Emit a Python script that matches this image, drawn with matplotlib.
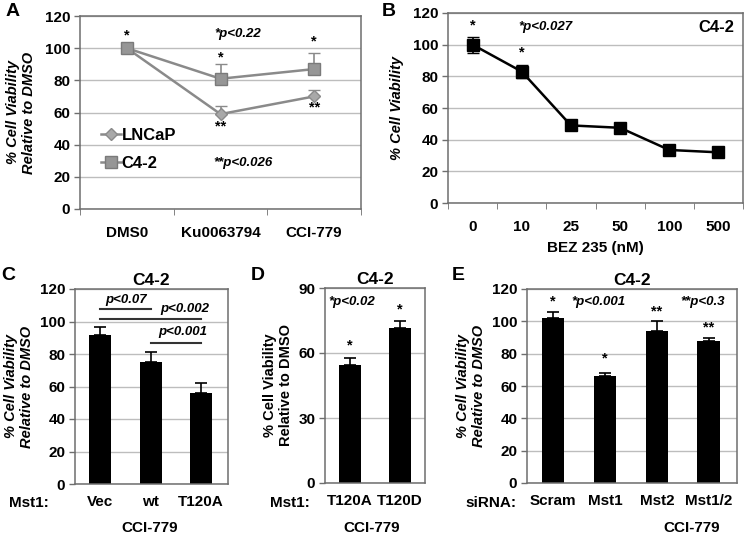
import matplotlib
matplotlib.use("Agg")
import matplotlib.pyplot as plt
from matplotlib.lines import Line2D

plt.rcParams["font.family"] = ["Liberation Sans", "DejaVu Sans"]
plt.rcParams["font.weight"] = "bold"

# panel A
a_cats = ["DMS0", "Ku0063794", "CCI-779"]
a_lncap = [100, 59, 70]
a_lncap_err = [0, 5, 4]
a_c42 = [100, 81, 87]
a_c42_err = [0, 9, 10]

# panel B
b_doses = ["0", "10", "25", "50", "100", "500"]
b_vals = [100, 83, 49, 47.5, 33.5, 32]
b_err = [5, 4, 0, 0, 0, 0]

# panel C
c_cats = ["Vec", "wt", "T120A"]
c_vals = [91.5, 75, 56]
c_err = [5, 6.5, 6]

# panel D
d_cats = ["T120A", "T120D"]
d_vals = [54.5, 71.5]
d_err = [3, 3.5]

# panel E
e_cats = ["Scram", "Mst1", "Mst2", "Mst1/2"]
e_vals = [102, 66, 94, 88]
e_err = [3.5, 2, 6, 2]

W, H = 745, 536
GRID = "#bdbdbd"
SPINE = "#6e6e6e"
TICK_FS = 11
PV = dict(fontsize=9.5, fontstyle="italic", fontweight="bold", ha="center", va="center")
STAR = dict(fontsize=10.5, ha="center", va="center")


def rect(x0, y0, x1, y1):
    return [x0 / W, 1 - y1 / H, (x1 - x0) / W, (y1 - y0) / H]


def style(ax, ymax, step):
    ax.set_ylim(0, ymax)
    ax.set_yticks(range(0, ymax + 1, step))
    ax.yaxis.grid(True, color=GRID, lw=1)
    ax.set_axisbelow(True)
    for s in ax.spines.values():
        s.set_color(SPINE)
        s.set_linewidth(1.1)
    ax.tick_params(axis="y", length=4, width=1, color=SPINE, labelsize=TICK_FS, pad=3)
    for t in ax.get_yticklabels():
        t.set_fontweight("bold")


fig = plt.figure(figsize=(W / 100, H / 100), dpi=100)

# ---- A
ax = fig.add_axes(rect(80, 16, 361, 209))
x = range(len(a_cats))
ax.errorbar(x, a_lncap, yerr=[[0] * 3, a_lncap_err], color="#8a8a8a", lw=1.8,
            marker="D", ms=6.5, mfc="#a8a8a8", mec="#8a8a8a", ecolor="#8a8a8a",
            elinewidth=1.2, capsize=4, label="LNCaP")
ax.errorbar(x, a_c42, yerr=[[0] * 3, a_c42_err], color="#8a8a8a", lw=1.8,
            marker="s", ms=8, mfc="#969696", mec="#7a7a7a", ecolor="#8a8a8a",
            elinewidth=1.2, capsize=4, label="C4-2")
ax.set_xlim(-0.5, 2.5)
style(ax, 120, 20)
ax.set_xticks(list(x))
ax.set_xticklabels(a_cats, fontsize=TICK_FS, fontweight="bold")
ax.set_xticks([-0.5, 0.5, 1.5, 2.5], minor=True)
ax.tick_params(axis="x", which="major", length=0, pad=12)
ax.tick_params(axis="x", which="minor", length=4, color=SPINE)
ax.set_ylabel("% Cell Viability\nRelative to DMSO", fontsize=10.5,
              fontstyle="italic", fontweight="bold", labelpad=6)
ax.text(0, 108, "*", **STAR)
ax.text(1, 94.5, "*", **STAR)
ax.text(1, 51.5, "**", **STAR)
ax.text(2, 104, "*", **STAR)
ax.text(2, 63, "**", **STAR)
ax.text(1.18, 109, "*p<0.22", **PV)
ax.text(1.24, 28.5, "**p<0.026", **PV)
handles = [
    Line2D([], [], color="#8a8a8a", lw=1.8, marker="D", ms=6.5, mfc="#a8a8a8", mec="#8a8a8a"),
    Line2D([], [], color="#8a8a8a", lw=1.8, marker="s", ms=8, mfc="#969696", mec="#7a7a7a"),
]
ax.legend(handles, ["LNCaP", "C4-2"], loc="upper left", bbox_to_anchor=(0.02, 0.5),
          frameon=False, prop=dict(size=12, weight="bold"), handlelength=1.2,
          handletextpad=0.05, labelspacing=0.8)

# ---- B
ax = fig.add_axes(rect(448, 13, 743, 203))
x = range(len(b_doses))
ax.errorbar(x, b_vals, yerr=b_err, color="black", lw=1.8, marker="s", ms=8,
            ecolor="black", elinewidth=1.2, capsize=4)
ax.set_xlim(-0.5, 5.5)
style(ax, 120, 20)
ax.set_xticks(list(x))
ax.set_xticklabels(b_doses, fontsize=TICK_FS, fontweight="bold")
ax.set_xticks([i - 0.5 for i in range(7)], minor=True)
ax.tick_params(axis="x", which="major", length=0, pad=12)
ax.tick_params(axis="x", which="minor", length=4, color=SPINE)
ax.set_xlabel("BEZ 235 (nM)", fontsize=11, fontweight="bold", labelpad=5)
ax.set_ylabel("% Cell Viability", fontsize=10.5, fontstyle="italic",
              fontweight="bold", labelpad=6)
ax.text(0, 112, "*", **STAR)
ax.text(1, 95, "*", **STAR)
ax.text(1.49, 111, "*p<0.027", **PV)
ax.text(4.96, 111, "C4-2", fontsize=12, fontweight="bold", ha="center", va="center")


def bars(ax, cats, vals, err, xmax):
    x = range(len(cats))
    ax.bar(x, vals, width=0.44, color="black", zorder=2)
    ax.errorbar(x, vals, yerr=[[0] * len(vals), err], fmt="none", ecolor="black",
                elinewidth=1.2, capsize=4, capthick=1.2, zorder=3)
    ax.set_xlim(-0.5, xmax)
    ax.set_xticks(list(x))
    ax.set_xticklabels(cats, fontsize=TICK_FS, fontweight="bold")
    ax.tick_params(axis="x", length=0, pad=8)
    ax.set_title("C4-2", fontsize=12.5, fontweight="bold", pad=3)


# ---- C
ax = fig.add_axes(rect(75, 289, 228, 484))
style(ax, 120, 20)
bars(ax, c_cats, c_vals, c_err, 2.53)
ax.set_ylabel("% Cell Viability\nRelative to DMSO", fontsize=10.5,
              fontstyle="italic", fontweight="bold", labelpad=4)
ax.plot([0, 1], [108, 108], color="#333333", lw=1.5)
ax.plot([0, 2], [101.5, 101.5], color="#333333", lw=1.5)
ax.plot([1, 2], [87, 87], color="#333333", lw=1.5)
ax.text(0.51, 113, "p<0.07", **PV)
ax.text(1.67, 107.7, "p<0.002", **PV)
ax.text(1.63, 93.6, "p<0.001", **PV)

# ---- D
ax = fig.add_axes(rect(325, 288, 425, 483))
style(ax, 90, 30)
bars(ax, d_cats, d_vals, d_err, 1.5)
ax.set_ylabel("% Cell Viability\nRelative to DMSO", fontsize=10.5,
              fontweight="bold", labelpad=4)
ax.text(0, 63.5, "*", **STAR)
ax.text(1, 80, "*", **STAR)
ax.text(0.04, 83.5, "*p<0.02", **PV)

# ---- E
ax = fig.add_axes(rect(527, 289, 737, 483))
style(ax, 120, 20)
bars(ax, e_cats, e_vals, e_err, 3.54)
ax.set_ylabel("% Cell Viability\nRelative to DMSO", fontsize=10.5,
              fontstyle="italic", fontweight="bold", labelpad=4)
ax.text(0, 112, "*", **STAR)
ax.text(1, 77, "*", **STAR)
ax.text(2, 106, "**", **STAR)
ax.text(3, 96.5, "**", **STAR)
ax.text(0.87, 112, "*p<0.001", **PV)
ax.text(2.88, 112, "**p<0.3", **PV)


# row labels and common texts
def ftext(px, py, s, **kw):
    fig.text(px / W, 1 - py / H, s, va="center", **kw)


ftext(29, 503, "Mst1:", fontsize=TICK_FS, fontweight="bold", ha="center")
ftext(290, 503, "Mst1:", fontsize=TICK_FS, fontweight="bold", ha="center")
ftext(491, 503, "siRNA:", fontsize=TICK_FS, fontweight="bold", ha="center")
ftext(150, 528, "CCI-779", fontsize=11, fontweight="bold", ha="center")
ftext(372, 528, "CCI-779", fontsize=11, fontweight="bold", ha="center")
ftext(692, 528, "CCI-779", fontsize=11, fontweight="bold", ha="center")

for px, py, s in [(13, 12, "A"), (389, 12, "B"), (8, 276, "C"), (258, 276, "D"), (458, 276, "E")]:
    ftext(px, py, s, fontsize=14, fontweight="bold", ha="center")

fig.savefig("out.png", dpi=100)
